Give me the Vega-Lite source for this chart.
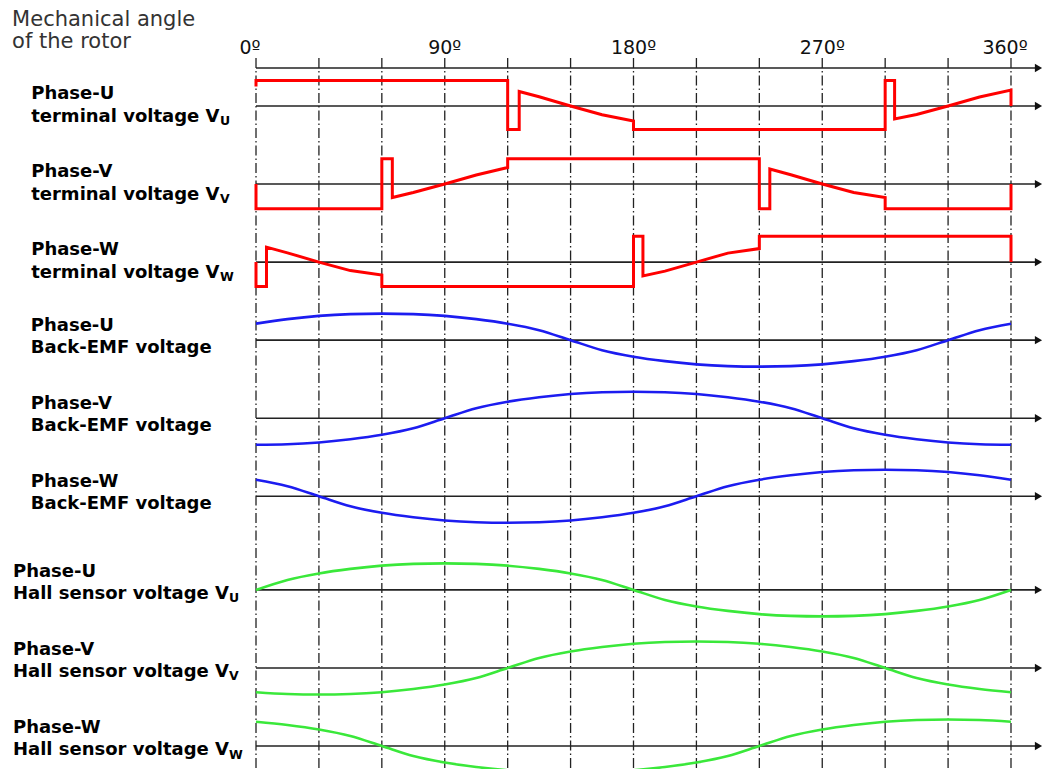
{
"$schema":"https://vega.github.io/schema/vega-lite/v6.json",
"width":1043,"height":769,"padding":0,
"autosize":{"type":"none"},
"background":"#ffffff",
"config":{"view":{"stroke":null},"font":"DejaVu Sans"},
"datasets":{
"term":[
{"sig":"Ut","deg":0,"v":0.78},{"sig":"Ut","deg":0,"v":1.02},{"sig":"Ut","deg":120,"v":1.02},{"sig":"Ut","deg":120,"v":-0.94},{"sig":"Ut","deg":125.5,"v":-0.94},{"sig":"Ut","deg":125.5,"v":0.58},{"sig":"Ut","deg":135,"v":0.37},{"sig":"Ut","deg":150,"v":0},{"sig":"Ut","deg":165,"v":-0.35},{"sig":"Ut","deg":180,"v":-0.6},{"sig":"Ut","deg":180,"v":-0.94},{"sig":"Ut","deg":300,"v":-0.94},{"sig":"Ut","deg":300,"v":1.02},{"sig":"Ut","deg":304.5,"v":1.02},{"sig":"Ut","deg":304.5,"v":-0.52},{"sig":"Ut","deg":315,"v":-0.34},{"sig":"Ut","deg":330,"v":0},{"sig":"Ut","deg":345,"v":0.36},{"sig":"Ut","deg":360,"v":0.64},{"sig":"Ut","deg":360,"v":0},
{"sig":"Vt","deg":0,"v":0},{"sig":"Vt","deg":0,"v":-0.99},{"sig":"Vt","deg":60,"v":-0.99},{"sig":"Vt","deg":60,"v":1.01},{"sig":"Vt","deg":65,"v":1.01},{"sig":"Vt","deg":65,"v":-0.54},{"sig":"Vt","deg":75,"v":-0.34},{"sig":"Vt","deg":90,"v":0},{"sig":"Vt","deg":105,"v":0.36},{"sig":"Vt","deg":120,"v":0.66},{"sig":"Vt","deg":120,"v":1.01},{"sig":"Vt","deg":240,"v":1.01},{"sig":"Vt","deg":240,"v":-0.99},{"sig":"Vt","deg":245,"v":-0.99},{"sig":"Vt","deg":245,"v":0.6},{"sig":"Vt","deg":255,"v":0.37},{"sig":"Vt","deg":270,"v":0},{"sig":"Vt","deg":285,"v":-0.34},{"sig":"Vt","deg":300,"v":-0.54},{"sig":"Vt","deg":300,"v":-0.99},{"sig":"Vt","deg":360,"v":-0.99},{"sig":"Vt","deg":360,"v":0},
{"sig":"Wt","deg":0,"v":0},{"sig":"Wt","deg":0,"v":-0.98},{"sig":"Wt","deg":5,"v":-0.98},{"sig":"Wt","deg":5,"v":0.6},{"sig":"Wt","deg":15,"v":0.37},{"sig":"Wt","deg":30,"v":0},{"sig":"Wt","deg":45,"v":-0.34},{"sig":"Wt","deg":60,"v":-0.52},{"sig":"Wt","deg":60,"v":-0.98},{"sig":"Wt","deg":180,"v":-0.98},{"sig":"Wt","deg":180,"v":1.03},{"sig":"Wt","deg":184.5,"v":1.03},{"sig":"Wt","deg":184.5,"v":-0.55},{"sig":"Wt","deg":195,"v":-0.36},{"sig":"Wt","deg":210,"v":0},{"sig":"Wt","deg":225,"v":0.36},{"sig":"Wt","deg":240,"v":0.54},{"sig":"Wt","deg":240,"v":1.03},{"sig":"Wt","deg":360,"v":1.03},{"sig":"Wt","deg":360,"v":0}
],
"wave":[
{"sig":"Ub","deg":0,"v":0.66},{"sig":"Ub","deg":15,"v":0.84},{"sig":"Ub","deg":30,"v":0.97},{"sig":"Ub","deg":45,"v":1.04},{"sig":"Ub","deg":60,"v":1.06},{"sig":"Ub","deg":75,"v":1.04},{"sig":"Ub","deg":90,"v":0.97},{"sig":"Ub","deg":105,"v":0.84},{"sig":"Ub","deg":120,"v":0.66},{"sig":"Ub","deg":135,"v":0.4},{"sig":"Ub","deg":150,"v":0},{"sig":"Ub","deg":165,"v":-0.4},{"sig":"Ub","deg":180,"v":-0.66},{"sig":"Ub","deg":195,"v":-0.84},{"sig":"Ub","deg":210,"v":-0.97},{"sig":"Ub","deg":225,"v":-1.04},{"sig":"Ub","deg":240,"v":-1.06},{"sig":"Ub","deg":255,"v":-1.04},{"sig":"Ub","deg":270,"v":-0.97},{"sig":"Ub","deg":285,"v":-0.84},{"sig":"Ub","deg":300,"v":-0.66},{"sig":"Ub","deg":315,"v":-0.4},{"sig":"Ub","deg":330,"v":0},{"sig":"Ub","deg":345,"v":0.4},{"sig":"Ub","deg":360,"v":0.66},
{"sig":"Vb","deg":0,"v":-1.06},{"sig":"Vb","deg":15,"v":-1.04},{"sig":"Vb","deg":30,"v":-0.97},{"sig":"Vb","deg":45,"v":-0.84},{"sig":"Vb","deg":60,"v":-0.66},{"sig":"Vb","deg":75,"v":-0.4},{"sig":"Vb","deg":90,"v":0},{"sig":"Vb","deg":105,"v":0.4},{"sig":"Vb","deg":120,"v":0.66},{"sig":"Vb","deg":135,"v":0.84},{"sig":"Vb","deg":150,"v":0.97},{"sig":"Vb","deg":165,"v":1.04},{"sig":"Vb","deg":180,"v":1.06},{"sig":"Vb","deg":195,"v":1.04},{"sig":"Vb","deg":210,"v":0.97},{"sig":"Vb","deg":225,"v":0.84},{"sig":"Vb","deg":240,"v":0.66},{"sig":"Vb","deg":255,"v":0.4},{"sig":"Vb","deg":270,"v":0},{"sig":"Vb","deg":285,"v":-0.4},{"sig":"Vb","deg":300,"v":-0.66},{"sig":"Vb","deg":315,"v":-0.84},{"sig":"Vb","deg":330,"v":-0.97},{"sig":"Vb","deg":345,"v":-1.04},{"sig":"Vb","deg":360,"v":-1.06},
{"sig":"Wb","deg":0,"v":0.66},{"sig":"Wb","deg":15,"v":0.4},{"sig":"Wb","deg":30,"v":0},{"sig":"Wb","deg":45,"v":-0.4},{"sig":"Wb","deg":60,"v":-0.66},{"sig":"Wb","deg":75,"v":-0.84},{"sig":"Wb","deg":90,"v":-0.97},{"sig":"Wb","deg":105,"v":-1.04},{"sig":"Wb","deg":120,"v":-1.06},{"sig":"Wb","deg":135,"v":-1.04},{"sig":"Wb","deg":150,"v":-0.97},{"sig":"Wb","deg":165,"v":-0.84},{"sig":"Wb","deg":180,"v":-0.66},{"sig":"Wb","deg":195,"v":-0.4},{"sig":"Wb","deg":210,"v":0},{"sig":"Wb","deg":225,"v":0.4},{"sig":"Wb","deg":240,"v":0.66},{"sig":"Wb","deg":255,"v":0.84},{"sig":"Wb","deg":270,"v":0.97},{"sig":"Wb","deg":285,"v":1.04},{"sig":"Wb","deg":300,"v":1.06},{"sig":"Wb","deg":315,"v":1.04},{"sig":"Wb","deg":330,"v":0.97},{"sig":"Wb","deg":345,"v":0.84},{"sig":"Wb","deg":360,"v":0.66},
{"sig":"Uh","deg":0,"v":0},{"sig":"Uh","deg":15,"v":0.4},{"sig":"Uh","deg":30,"v":0.66},{"sig":"Uh","deg":45,"v":0.84},{"sig":"Uh","deg":60,"v":0.97},{"sig":"Uh","deg":75,"v":1.04},{"sig":"Uh","deg":90,"v":1.06},{"sig":"Uh","deg":105,"v":1.04},{"sig":"Uh","deg":120,"v":0.97},{"sig":"Uh","deg":135,"v":0.84},{"sig":"Uh","deg":150,"v":0.66},{"sig":"Uh","deg":165,"v":0.4},{"sig":"Uh","deg":180,"v":0},{"sig":"Uh","deg":195,"v":-0.4},{"sig":"Uh","deg":210,"v":-0.66},{"sig":"Uh","deg":225,"v":-0.84},{"sig":"Uh","deg":240,"v":-0.97},{"sig":"Uh","deg":255,"v":-1.04},{"sig":"Uh","deg":270,"v":-1.06},{"sig":"Uh","deg":285,"v":-1.04},{"sig":"Uh","deg":300,"v":-0.97},{"sig":"Uh","deg":315,"v":-0.84},{"sig":"Uh","deg":330,"v":-0.66},{"sig":"Uh","deg":345,"v":-0.4},{"sig":"Uh","deg":360,"v":0},
{"sig":"Vh","deg":0,"v":-0.97},{"sig":"Vh","deg":15,"v":-1.04},{"sig":"Vh","deg":30,"v":-1.06},{"sig":"Vh","deg":45,"v":-1.04},{"sig":"Vh","deg":60,"v":-0.97},{"sig":"Vh","deg":75,"v":-0.84},{"sig":"Vh","deg":90,"v":-0.66},{"sig":"Vh","deg":105,"v":-0.4},{"sig":"Vh","deg":120,"v":0},{"sig":"Vh","deg":135,"v":0.4},{"sig":"Vh","deg":150,"v":0.66},{"sig":"Vh","deg":165,"v":0.84},{"sig":"Vh","deg":180,"v":0.97},{"sig":"Vh","deg":195,"v":1.04},{"sig":"Vh","deg":210,"v":1.06},{"sig":"Vh","deg":225,"v":1.04},{"sig":"Vh","deg":240,"v":0.97},{"sig":"Vh","deg":255,"v":0.84},{"sig":"Vh","deg":270,"v":0.66},{"sig":"Vh","deg":285,"v":0.4},{"sig":"Vh","deg":300,"v":0},{"sig":"Vh","deg":315,"v":-0.4},{"sig":"Vh","deg":330,"v":-0.66},{"sig":"Vh","deg":345,"v":-0.84},{"sig":"Vh","deg":360,"v":-0.97},
{"sig":"Wh","deg":0,"v":0.97},{"sig":"Wh","deg":15,"v":0.84},{"sig":"Wh","deg":30,"v":0.66},{"sig":"Wh","deg":45,"v":0.4},{"sig":"Wh","deg":60,"v":0},{"sig":"Wh","deg":75,"v":-0.4},{"sig":"Wh","deg":90,"v":-0.66},{"sig":"Wh","deg":105,"v":-0.84},{"sig":"Wh","deg":120,"v":-0.97},{"sig":"Wh","deg":135,"v":-1.04},{"sig":"Wh","deg":150,"v":-1.06},{"sig":"Wh","deg":165,"v":-1.04},{"sig":"Wh","deg":180,"v":-0.97},{"sig":"Wh","deg":195,"v":-0.84},{"sig":"Wh","deg":210,"v":-0.66},{"sig":"Wh","deg":225,"v":-0.4},{"sig":"Wh","deg":240,"v":0},{"sig":"Wh","deg":255,"v":0.4},{"sig":"Wh","deg":270,"v":0.66},{"sig":"Wh","deg":285,"v":0.84},{"sig":"Wh","deg":300,"v":0.97},{"sig":"Wh","deg":315,"v":1.04},{"sig":"Wh","deg":330,"v":1.06},{"sig":"Wh","deg":345,"v":1.04},{"sig":"Wh","deg":360,"v":0.97}
],
"grid":[
{"g":"0","deg":0,"sig":"Ut","v":1.92},{"g":"0","deg":0,"sig":"Wh","v":-1.0},
{"g":"30","deg":30,"sig":"Ut","v":1.92},{"g":"30","deg":30,"sig":"Wh","v":-1.0},
{"g":"60","deg":60,"sig":"Ut","v":1.92},{"g":"60","deg":60,"sig":"Wh","v":-1.0},
{"g":"90","deg":90,"sig":"Ut","v":1.92},{"g":"90","deg":90,"sig":"Wh","v":-1.0},
{"g":"120","deg":120,"sig":"Ut","v":1.92},{"g":"120","deg":120,"sig":"Wh","v":-1.0},
{"g":"150","deg":150,"sig":"Ut","v":1.92},{"g":"150","deg":150,"sig":"Wh","v":-1.0},
{"g":"180","deg":180,"sig":"Ut","v":1.92},{"g":"180","deg":180,"sig":"Wh","v":-1.0},
{"g":"210","deg":210,"sig":"Ut","v":1.92},{"g":"210","deg":210,"sig":"Wh","v":-1.0},
{"g":"240","deg":240,"sig":"Ut","v":1.92},{"g":"240","deg":240,"sig":"Wh","v":-1.0},
{"g":"270","deg":270,"sig":"Ut","v":1.92},{"g":"270","deg":270,"sig":"Wh","v":-1.0},
{"g":"300","deg":300,"sig":"Ut","v":1.92},{"g":"300","deg":300,"sig":"Wh","v":-1.0},
{"g":"330","deg":330,"sig":"Ut","v":1.92},{"g":"330","deg":330,"sig":"Wh","v":-1.0},
{"g":"360","deg":360,"sig":"Ut","v":1.92},{"g":"360","deg":360,"sig":"Wh","v":-1.0}
],
"axes":[
{"id":"top","sig":"Ut","deg":0,"v":1.52},{"id":"top","sig":"Ut","deg":372,"v":1.52},
{"id":"Ut","sig":"Ut","deg":0,"v":0},{"id":"Ut","sig":"Ut","deg":372,"v":0},
{"id":"Vt","sig":"Vt","deg":0,"v":0},{"id":"Vt","sig":"Vt","deg":372,"v":0},
{"id":"Wt","sig":"Wt","deg":0,"v":0},{"id":"Wt","sig":"Wt","deg":372,"v":0},
{"id":"Ub","sig":"Ub","deg":0,"v":0},{"id":"Ub","sig":"Ub","deg":372,"v":0},
{"id":"Vb","sig":"Vb","deg":0,"v":0},{"id":"Vb","sig":"Vb","deg":372,"v":0},
{"id":"Wb","sig":"Wb","deg":0,"v":0},{"id":"Wb","sig":"Wb","deg":372,"v":0},
{"id":"Uh","sig":"Uh","deg":0,"v":0},{"id":"Uh","sig":"Uh","deg":372,"v":0},
{"id":"Vh","sig":"Vh","deg":0,"v":0},{"id":"Vh","sig":"Vh","deg":372,"v":0},
{"id":"Wh","sig":"Wh","deg":0,"v":0},{"id":"Wh","sig":"Wh","deg":372,"v":0}
],
"labels":[
{"sig":"Ut","kind":"term","l1":"Phase-U","l2":"terminal voltage V","sub":"U"},
{"sig":"Vt","kind":"term","l1":"Phase-V","l2":"terminal voltage V","sub":"V"},
{"sig":"Wt","kind":"term","l1":"Phase-W","l2":"terminal voltage V","sub":"W"},
{"sig":"Ub","kind":"bemf","l1":"Phase-U","l2":"Back-EMF voltage","sub":""},
{"sig":"Vb","kind":"bemf","l1":"Phase-V","l2":"Back-EMF voltage","sub":""},
{"sig":"Wb","kind":"bemf","l1":"Phase-W","l2":"Back-EMF voltage","sub":""},
{"sig":"Uh","kind":"hall","l1":"Phase-U","l2":"Hall sensor voltage V","sub":"U"},
{"sig":"Vh","kind":"hall","l1":"Phase-V","l2":"Hall sensor voltage V","sub":"V"},
{"sig":"Wh","kind":"hall","l1":"Phase-W","l2":"Hall sensor voltage V","sub":"W"}
],
"degs":[
{"sig":"Ut","deg":0,"lab":"0º"},{"sig":"Ut","deg":90,"lab":"90º"},{"sig":"Ut","deg":180,"lab":"180º"},{"sig":"Ut","deg":270,"lab":"270º"},{"sig":"Ut","deg":360,"lab":"360º"}
],
"title":[{"sig":"Ut","txt":"Mechanical angle"}]
},
"encoding":{"y":{"field":"sig","type":"nominal","axis":null,"scale":{"type":"band","domain":["t1","t2","t3","t4","t5","t6","Ut","g1","g2","g3","g4","Vt","g6","g7","g8","g9","Wt","g11","g12","g13","g14","Ub","g16","g17","g18","g19","Vb","g21","g22","g23","g24","Wb","g26","g27","g28","g29","g30","Uh","g32","g33","g34","g35","Vh","g37","g38","g39","g40","Wh"],"paddingInner":0,"paddingOuter":0.632,"align":0.626,"round":false}}},
"layer":[
{"data":{"name":"grid"},"mark":{"type":"line","color":"#222222","strokeWidth":1.3,"strokeDash":[10,3,1.5,3]},
 "encoding":{"x":{"field":"deg","type":"quantitative","axis":null,"scale":{"domain":[-122.07,375.26],"nice":false,"zero":false}},
 "yOffset":{"field":"v","type":"quantitative","scale":{"domain":[-1,1],"range":[25,-25],"nice":false,"zero":false}},
 "detail":{"field":"g","type":"nominal"},"order":{"value":null}}},
{"data":{"name":"axes"},"mark":{"type":"line","color":"#222222","strokeWidth":1.6},
 "encoding":{"x":{"field":"deg","type":"quantitative","axis":null,"scale":{"domain":[-122.07,375.26],"nice":false,"zero":false}},
 "yOffset":{"field":"v","type":"quantitative","scale":{"domain":[-1,1],"range":[25,-25],"nice":false,"zero":false}},
 "detail":{"field":"id","type":"nominal"},"order":{"value":null}}},
{"data":{"name":"axes"},"transform":[{"filter":"datum.deg > 300"}],"mark":{"type":"point","shape":"triangle-right","filled":true,"size":70,"color":"#111111","opacity":1},
 "encoding":{"x":{"datum":373.1,"type":"quantitative","axis":null,"scale":{"domain":[-122.07,375.26],"nice":false,"zero":false}},
 "yOffset":{"field":"v","type":"quantitative","scale":{"domain":[-1,1],"range":[25,-25],"nice":false,"zero":false}}}},
{"data":{"name":"term"},"mark":{"type":"line","color":"#ff0000","strokeWidth":3},
 "encoding":{"x":{"field":"deg","type":"quantitative","axis":null,"scale":{"domain":[-122.07,375.26],"nice":false,"zero":false}},
 "yOffset":{"field":"v","type":"quantitative","scale":{"domain":[-1,1],"range":[25,-25],"nice":false,"zero":false}},
 "detail":{"field":"sig","type":"nominal"},"order":{"value":null}}},
{"data":{"name":"wave"},"mark":{"type":"line","strokeWidth":2.6,"interpolate":"monotone"},
 "encoding":{"x":{"field":"deg","type":"quantitative","axis":null,"scale":{"domain":[-122.07,375.26],"nice":false,"zero":false}},
 "yOffset":{"field":"v","type":"quantitative","scale":{"domain":[-1,1],"range":[25,-25],"nice":false,"zero":false}},
 "color":{"field":"sig","type":"nominal","legend":null,"scale":{"domain":["Ub","Vb","Wb","Uh","Vh","Wh"],"range":["#1c1cf0","#1c1cf0","#1c1cf0","#3ae83a","#3ae83a","#3ae83a"]}},
 "order":{"value":null}}},
{"data":{"name":"degs"},"transform":[{"filter":"datum.deg > 0 && datum.deg < 360"}],"mark":{"type":"text","fontSize":19,"color":"#111111","align":"center","baseline":"middle"},
 "encoding":{"x":{"field":"deg","type":"quantitative","axis":null,"scale":{"domain":[-122.07,375.26],"nice":false,"zero":false}},
 "yOffset":{"datum":2.32,"type":"quantitative","scale":{"domain":[-1,1],"range":[25,-25],"nice":false,"zero":false}},
 "text":{"field":"lab"}}},
{"data":{"name":"degs"},"transform":[{"filter":"datum.deg == 0 || datum.deg == 360"}],"mark":{"type":"text","fontSize":19,"color":"#111111","align":"center","baseline":"middle","dx":-6},
 "encoding":{"x":{"field":"deg","type":"quantitative","axis":null,"scale":{"domain":[-122.07,375.26],"nice":false,"zero":false}},
 "yOffset":{"datum":2.32,"type":"quantitative","scale":{"domain":[-1,1],"range":[25,-25],"nice":false,"zero":false}},
 "text":{"field":"lab"}}},
{"data":{"name":"title"},"mark":{"type":"text","fontSize":21,"color":"#333333","align":"left","baseline":"top","lineHeight":22},
 "encoding":{"x":{"datum":-116.3,"type":"quantitative","axis":null,"scale":{"domain":[-122.07,375.26],"nice":false,"zero":false}},
 "yOffset":{"datum":3.9,"type":"quantitative","scale":{"domain":[-1,1],"range":[25,-25],"nice":false,"zero":false}},
 "text":{"value":["Mechanical angle","of the rotor"]}}},
{"data":{"name":"labels"},"transform":[{"filter":"datum.kind == 'term'"}],"mark":{"type":"text","fontSize":18,"fontWeight":"bold","color":"#000000","align":"left","baseline":"middle","dy":-20.2},
 "encoding":{"x":{"datum":-107.2,"type":"quantitative","axis":null,"scale":{"domain":[-122.07,375.26],"nice":false,"zero":false}},"text":{"field":"l1"}}},
{"data":{"name":"labels"},"transform":[{"filter":"datum.kind == 'term'"}],"mark":{"type":"text","fontSize":18,"fontWeight":"bold","color":"#000000","align":"left","baseline":"middle","dy":2.8},
 "encoding":{"x":{"datum":-107.2,"type":"quantitative","axis":null,"scale":{"domain":[-122.07,375.26],"nice":false,"zero":false}},"text":{"field":"l2"}}},
{"data":{"name":"labels"},"transform":[{"filter":"datum.kind == 'term'"}],"mark":{"type":"text","fontSize":12.5,"fontWeight":"bold","color":"#000000","align":"left","baseline":"middle","dy":7.2},
 "encoding":{"x":{"datum":-17.2,"type":"quantitative","axis":null,"scale":{"domain":[-122.07,375.26],"nice":false,"zero":false}},"text":{"field":"sub"}}},
{"data":{"name":"labels"},"transform":[{"filter":"datum.kind == 'bemf'"}],"mark":{"type":"text","fontSize":18,"fontWeight":"bold","color":"#000000","align":"left","baseline":"middle","dy":-22.3},
 "encoding":{"x":{"datum":-107.4,"type":"quantitative","axis":null,"scale":{"domain":[-122.07,375.26],"nice":false,"zero":false}},"text":{"field":"l1"}}},
{"data":{"name":"labels"},"transform":[{"filter":"datum.kind == 'bemf'"}],"mark":{"type":"text","fontSize":18,"fontWeight":"bold","color":"#000000","align":"left","baseline":"middle","dy":-0.2},
 "encoding":{"x":{"datum":-107.4,"type":"quantitative","axis":null,"scale":{"domain":[-122.07,375.26],"nice":false,"zero":false}},"text":{"field":"l2"}}},
{"data":{"name":"labels"},"transform":[{"filter":"datum.kind == 'hall'"}],"mark":{"type":"text","fontSize":18,"fontWeight":"bold","color":"#000000","align":"left","baseline":"middle","dy":-25.8},
 "encoding":{"x":{"datum":-115.9,"type":"quantitative","axis":null,"scale":{"domain":[-122.07,375.26],"nice":false,"zero":false}},"text":{"field":"l1"}}},
{"data":{"name":"labels"},"transform":[{"filter":"datum.kind == 'hall'"}],"mark":{"type":"text","fontSize":18,"fontWeight":"bold","color":"#000000","align":"left","baseline":"middle","dy":-3.8},
 "encoding":{"x":{"datum":-115.9,"type":"quantitative","axis":null,"scale":{"domain":[-122.07,375.26],"nice":false,"zero":false}},"text":{"field":"l2"}}},
{"data":{"name":"labels"},"transform":[{"filter":"datum.kind == 'hall'"}],"mark":{"type":"text","fontSize":12.5,"fontWeight":"bold","color":"#000000","align":"left","baseline":"middle","dy":0.7},
 "encoding":{"x":{"datum":-12.9,"type":"quantitative","axis":null,"scale":{"domain":[-122.07,375.26],"nice":false,"zero":false}},"text":{"field":"sub"}}}
]
}
